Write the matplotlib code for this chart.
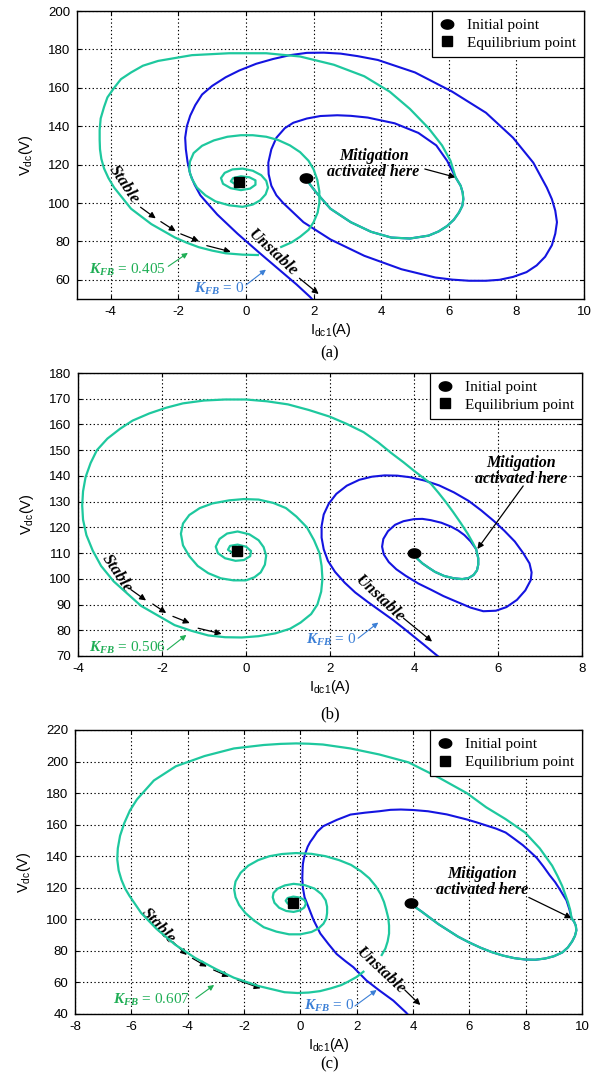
import numpy as np
import matplotlib
matplotlib.use('Agg')
import matplotlib.pyplot as plt
from matplotlib.lines import Line2D
from matplotlib.path import Path

plt.rcParams['font.family'] = ['Liberation Sans', 'DejaVu Sans']
plt.rcParams['axes.unicode_minus'] = False
plt.rcParams['mathtext.fontset'] = 'custom'
plt.rcParams['mathtext.rm'] = 'Liberation Sans'
plt.rcParams['mathtext.it'] = 'Liberation Sans:italic'
plt.rcParams['mathtext.bf'] = 'Liberation Serif:bold'
plt.rcParams['mathtext.bfit'] = 'Liberation Serif:italic:bold'

BLUE = '#1414e0'
TEAL = '#1ec89e'
GREEN_TXT = '#1fae55'
BLUE_TXT = '#3b7fd6'

# ---------------- panel (a): K_FB = 0.405 ----------------
a_init = (1.77, 113.0)
a_equil = (-0.2, 111.0)
a_shared_x = [1.77, 1.9, 2.1, 2.5, 3.1, 3.7, 4.3, 4.85, 5.4, 5.7, 5.95, 6.15, 6.3, 6.4, 6.43,
              6.41, 6.35, 6.2]
a_shared_y = [113.0, 109.5, 105.0, 97.0, 90.0, 85.0, 82.0, 81.5, 83.0, 85.2, 88.0, 91.3, 95.0,
              98.5, 102.0, 105.5, 109.0, 113.4]
a_blue_x = [6.2, 5.95, 5.63, 5.1, 4.4, 3.6, 3.1, 2.7, 2.2, 1.8, 1.4, 1.15, 0.9, 0.75, 0.66,
            0.67, 0.75, 0.9, 1.1, 1.7, 2.5, 3.5, 4.6, 5.6, 6.1, 6.6, 7.1, 7.5, 7.9, 8.3, 8.6,
            8.85, 9.05, 9.15, 9.2, 9.15, 9.05, 8.9, 8.5, 7.9, 7.1, 6.1, 5.0, 3.9, 3.3, 2.8,
            2.3, 1.8, 1.3, 0.8, 0.3, -0.2, -0.6, -1.0, -1.3, -1.5, -1.65, -1.75, -1.8, -1.78,
            -1.73, -1.65, -1.52, -1.35, -1.1, -0.85, -0.25, 0.4, 1.0, 1.5, 1.9, 2.0]
a_blue_y = [113.4, 122.0, 130.0, 136.5, 141.5, 144.5, 145.4, 145.7, 145.3, 144.0, 141.8, 139.0,
            134.0, 128.0, 121.0, 115.0, 109.0, 104.0, 100.0, 90.0, 81.0, 72.5, 65.5, 61.2,
            60.1, 59.5, 59.5, 60.0, 61.5, 64.0, 67.5, 72.0, 78.0, 84.0, 90.0, 96.0, 102.0,
            108.0, 121.0, 134.0, 147.0, 158.0, 168.0, 174.5, 176.5, 177.8, 178.3, 178.2,
            177.0, 175.0, 172.5, 169.0, 165.5, 161.0, 156.5, 151.0, 145.5, 140.0, 134.0,
            128.0, 121.5, 115.0, 109.5, 104.0, 99.0, 94.0, 84.0, 74.0, 65.0, 57.5, 51.0, 49.0]
a_teal_x = [6.2, 6.05, 5.8, 5.4, 4.85, 4.25, 3.5, 2.6, 1.6, 0.6, -0.5, -1.6, -2.6, -3.05, -3.4,
            -3.7, -3.9, -4.1, -4.2, -4.3, -4.33, -4.33, -4.32, -4.28, -4.2, -4.07, -3.9, -3.4,
            -2.8, -2.1, -1.75, -1.4, -1.0, -0.6, -0.1, 0.35, np.nan,
            1.04, 1.35, 1.6, 1.85, 2.0, 2.12, 2.17, 2.17, 2.11, 2.0, 1.85, 1.6, 1.3, 0.95,
            0.6, 0.2, -0.15, -0.55, -0.95, -1.3, -1.55, -1.66, -1.68, -1.6, -1.45, -1.2,
            -0.9, -0.5, -0.1, 0.2, 0.42, 0.58, 0.65, 0.6, 0.45, 0.2, -0.1, -0.4, -0.63,
            -0.74, -0.68, -0.45, -0.15, 0.12, 0.28, 0.28, 0.1, -0.15, -0.38, -0.45, -0.32,
            -0.15, -0.2]
a_teal_y = [113.4, 122.0, 130.0, 139.0, 149.0, 158.0, 166.0, 172.0, 176.3, 178.0, 178.0, 177.0,
            174.0, 171.5, 168.0, 164.5, 160.0, 155.0, 150.0, 144.0, 138.0, 133.0, 128.0, 123.0,
            118.0, 113.0, 108.0, 97.0, 89.0, 82.0, 79.3, 77.0, 75.2, 73.8, 73.1, 72.9, np.nan,
            77.1, 79.5, 82.4, 86.0, 90.0, 95.0, 100.0, 106.0, 112.0, 117.5, 122.0, 126.5,
            130.0, 132.8, 134.5, 135.3, 135.3, 134.5, 132.6, 129.8, 126.0, 121.5, 117.0,
            112.5, 108.0, 104.0, 100.8, 98.8, 98.0, 99.2, 101.4, 104.5, 108.0, 111.5, 114.5,
            116.8, 117.9, 117.5, 115.7, 113.0, 110.0, 107.7, 106.7, 107.5, 109.5, 111.8,
            113.4, 113.9, 113.0, 111.3, 109.8, 110.2, 111.0]

# ---------------- panel (b): K_FB = 0.506 ----------------
b_init = (4.0, 110.1)
b_equil = (-0.22, 110.8)
b_shared_x = [4.0, 4.08, 4.2, 4.35, 4.5, 4.72, 4.95, 5.15, 5.3, 5.42, 5.5, 5.53, 5.53, 5.5, 5.48]
b_shared_y = [110.1, 107.8, 106.0, 104.3, 102.7, 101.1, 100.2, 99.9, 100.3, 101.5, 103.3,
              105.5, 108.0, 110.0, 111.5]
b_blue_x = [5.48, 5.35, 5.2, 5.05, 4.88, 4.65, 4.4, 4.2, 4.0, 3.75, 3.55, 3.38, 3.27, 3.24,
            3.28, 3.4, 3.58, 3.8, 4.1, 4.4, 4.7, 5.0, 5.35, 5.65, 5.95, 6.2, 6.45, 6.65, 6.78,
            6.8, 6.75, 6.6, 6.4, 6.15, 5.9, 5.6, 5.3, 4.95, 4.6, 4.25, 3.9, 3.6, 3.3, 3.0,
            2.7, 2.4, 2.15, 1.97, 1.85, 1.8, 1.8, 1.85, 1.95, 2.12, 2.35, 2.6, 2.9, 3.2, 3.5,
            3.75, 4.0, 4.25, 4.45, 4.6]
b_blue_y = [111.5, 114.5, 117.0, 118.8, 120.3, 121.8, 122.8, 123.3, 123.2, 122.4, 121.0, 118.5,
            115.5, 112.5, 109.5, 106.5, 103.7, 101.2, 98.2, 95.8, 93.3, 91.2, 88.8, 87.4, 87.6,
            89.0, 91.8, 95.5, 99.5, 102.5, 106.0, 110.0, 114.5, 118.7, 122.5, 126.6, 130.3,
            133.6, 136.3, 138.2, 139.5, 140.1, 140.2, 139.7, 138.5, 136.2, 133.0, 129.2, 125.0,
            120.5, 116.0, 111.5, 107.0, 102.7, 98.5, 94.7, 91.0, 87.5, 84.0, 80.8, 77.5, 74.2,
            71.5, 69.5]
b_teal_x = [5.48, 5.4, 5.28, 5.1, 4.93, 4.75, 4.58, 4.4, 4.2, 4.0, 3.75, 3.45, 3.15, 2.8, 2.4,
            2.0, 1.5, 1.0, 0.5, 0.0, -0.5, -1.0, -1.5, -1.9, -2.3, -2.7, -3.0, -3.3, -3.55,
            -3.7, -3.82, -3.88, -3.9, -3.88, -3.8, -3.65, -3.45, -3.15, -2.5, -1.7, -1.3, -0.9,
            -0.5, -0.1, 0.3, 0.7, 1.05, 1.3, 1.55, 1.7, 1.79, 1.82, 1.8, 1.75, 1.62, 1.45, 1.2,
            0.95, 0.65, 0.3, -0.05, -0.4, -0.8, -1.1, -1.35, -1.5, -1.55, -1.5, -1.35, -1.15,
            -0.9, -0.6, -0.3, 0.0, 0.2, 0.35, 0.45, 0.48, 0.42, 0.3, 0.08, -0.2, -0.45, -0.63,
            -0.72, -0.67, -0.5, -0.25, -0.05, 0.1, 0.12, 0.0, -0.2, -0.38, -0.43, -0.33, -0.22]
b_teal_y = [111.5, 114.0, 117.5, 122.0, 126.0, 130.0, 133.5, 137.0, 139.5, 142.0, 145.3, 149.0,
            153.0, 157.0, 160.2, 163.0, 165.6, 167.8, 169.0, 169.7, 169.7, 169.3, 168.2, 166.5,
            164.3, 161.5, 158.3, 154.5, 150.0, 145.0, 139.5, 134.0, 128.5, 123.0, 117.0, 111.0,
            105.0, 99.0, 89.5, 82.0, 79.8, 78.0, 77.3, 77.2, 77.7, 78.8, 80.6, 83.0, 86.3, 90.0,
            95.0, 100.0, 105.0, 110.0, 115.0, 120.0, 124.2, 127.5, 129.5, 130.8, 131.0, 130.5,
            129.3, 127.5, 124.8, 121.5, 117.5, 113.0, 108.8, 105.0, 102.2, 100.2, 99.4, 99.4,
            100.6, 102.5, 105.5, 109.0, 112.3, 115.0, 117.3, 118.4, 117.6, 115.5, 112.5, 110.0,
            108.0, 107.0, 107.3, 108.8, 110.8, 112.5, 113.3, 112.8, 111.3, 110.2, 110.8]

# ---------------- panel (c): K_FB = 0.607 ----------------
c_init = (3.94, 110.5)
c_equil = (-0.26, 110.5)
c_shared_x = [3.94, 4.1, 4.3, 4.6, 4.9, 5.25, 5.6, 6.0, 6.4, 6.8, 7.2, 7.6, 8.0, 8.35, 8.7, 9.0,
              9.3, 9.5, 9.65, 9.75, 9.8, 9.78, 9.72, 9.63]
c_shared_y = [110.5, 107.5, 105.0, 101.0, 97.0, 93.0, 89.0, 85.3, 82.0, 79.2, 77.0, 75.4, 74.5,
              74.4, 75.2, 76.6, 79.0, 82.2, 86.0, 89.5, 93.0, 96.0, 98.5, 100.7]
c_blue_x = [9.63, 9.55, 9.45, 9.21, 9.05, 8.85, 8.63, 8.39, 8.15, 7.9, 7.6, 7.29, 6.95, 6.6,
            6.25, 5.91, 5.2, 4.53, 4.0, 3.57, 3.2, 2.8, 2.3, 1.78, 1.29, 0.81, 0.6, 0.47, 0.35,
            0.26, 0.17, 0.12, 0.09, 0.08, 0.07, 0.09, 0.15, 0.29, 0.47, 0.71, 1.0, 1.29, 1.6,
            1.88, 2.35, 2.8, 3.3, 3.75, 3.85]
c_blue_y = [100.7, 106.5, 112.0, 119.0, 123.5, 128.0, 133.5, 139.0, 143.0, 147.0, 151.0, 155.0,
            157.5, 159.5, 161.5, 163.3, 166.5, 168.5, 169.3, 169.6, 169.4, 168.5, 167.6, 166.4,
            163.0, 159.0, 155.5, 152.0, 149.0, 146.0, 141.5, 138.0, 135.0, 131.8, 126.0, 120.0,
            114.0, 107.7, 99.5, 91.0, 84.3, 78.0, 73.5, 69.7, 61.2, 55.0, 48.5, 41.0, 39.0]
c_teal_x = [9.63, 9.58, 9.5, 9.4, 9.3, 9.13, 8.94, 8.5, 7.98, 7.29, 6.6, 5.91, 4.9, 3.84, 2.8,
            1.78, 0.8, 0.3, -0.15, -0.7, -1.3, -2.36, -3.4, -4.42, -5.2, -5.8, -6.05, -6.25,
            -6.4, -6.48, -6.5, -6.45, -6.35, -6.22, -6.07, -5.65, -5.11, -4.45, -3.73, -3.0,
            -2.36, -1.5, -0.56, -0.1, 0.3, 0.7, 1.09, 1.45, 1.7, 2.0, 2.24, np.nan,
            2.89, 3.02, 3.1, 3.15, 3.15, 3.12, 3.05, 2.97, 2.85, 2.68, 2.45, 2.15, 1.8, 1.38,
            0.9, 0.4, -0.15, -0.65, -1.1, -1.5, -1.85, -2.12, -2.3, -2.35, -2.3, -2.17, -1.95,
            -1.65, -1.3, -0.85, -0.4, 0.0, 0.4, 0.65, 0.82, 0.92, 0.95, 0.95, 0.9, 0.75, 0.5,
            0.15, -0.24, -0.55, -0.8, -0.95, -0.98, -0.92, -0.75, -0.5, -0.24, -0.02, 0.14,
            0.2, 0.15, -0.02, -0.25, -0.45, -0.52, -0.45, -0.3, -0.22]
c_teal_y = [100.7, 106.0, 111.0, 116.0, 121.0, 127.5, 134.0, 145.0, 155.0, 163.5, 171.0, 180.0,
            190.0, 199.5, 204.5, 208.3, 210.8, 211.3, 211.5, 211.2, 210.5, 208.3, 203.5, 197.0,
            188.0, 176.0, 169.0, 161.0, 153.0, 145.0, 138.0, 131.0, 125.0, 119.5, 115.0, 104.0,
            94.0, 84.0, 75.5, 68.5, 63.0, 57.8, 53.8, 53.3, 53.6, 54.5, 56.3, 58.3, 60.5, 63.5,
            66.8, np.nan,
            77.4, 81.5, 86.0, 91.0, 96.0, 101.0, 106.0, 111.0, 116.0, 121.0, 126.0, 130.5,
            134.5, 137.5, 140.0, 141.5, 142.0, 141.4, 140.0, 137.5, 134.0, 129.5, 124.0, 119.0,
            114.0, 109.0, 104.0, 99.3, 95.0, 92.2, 90.5, 90.5, 92.0, 94.3, 97.2, 100.5, 104.0,
            108.0, 112.0, 116.0, 119.5, 121.7, 122.5, 121.5, 119.5, 116.8, 114.0, 110.5, 107.3,
            105.3, 104.7, 105.6, 107.5, 110.0, 112.2, 113.8, 114.4, 113.5, 111.8, 110.0, 109.4,
            110.3]

# axis settings per panel
a_xlim, a_ylim = (-5, 10), (50, 200)
b_xlim, b_ylim = (-4, 8), (70, 180)
c_xlim, c_ylim = (-8, 10), (40, 220)
a_xticks, a_yticks = np.arange(-4, 11, 2), np.arange(60, 201, 20)
b_xticks, b_yticks = np.arange(-4, 9, 2), np.arange(70, 181, 10)
c_xticks, c_yticks = np.arange(-8, 11, 2), np.arange(40, 221, 20)
captions = ['(a)', '(b)', '(c)']

# ellipse-shaped marker for the initial point
_t = np.linspace(0, 2 * np.pi, 60)
ELLIPSE = Path(np.column_stack([1.35 * np.cos(_t), np.sin(_t)]))

SERIF = 'Liberation Serif'
BI = dict(family=SERIF, weight='bold', style='italic', fontsize=11.5)
BI_L = dict(family=SERIF, weight='bold', style='italic', fontsize=12)

fig = plt.figure(figsize=(6.10, 10.74), dpi=100)
W, H = 610.0, 1074.0


def arrow(ax, tail, tip, color='k', lw=0.9, scale=9):
    ax.annotate('', xy=tip, xytext=tail,
                arrowprops=dict(arrowstyle='-|>', color=color, lw=lw,
                                mutation_scale=scale, shrinkA=0, shrinkB=0))


def add_axes(left, right, top, bottom):
    return fig.add_axes([left / W, 1 - bottom / H, (right - left) / W, (bottom - top) / H])


def base_axes(ax, xlim, ylim, xticks, yticks, caption, cap_y):
    ax.set_xlim(*xlim)
    ax.set_ylim(*ylim)
    ax.set_xticks(xticks)
    ax.set_yticks(yticks)
    ax.grid(True, color='k', linestyle=(0, (1.2, 2.2)), linewidth=0.8)
    ax.tick_params(direction='in', length=3, width=0.8, top=True, right=True,
                   labelsize=9.5, pad=5)
    for s in ax.spines.values():
        s.set_linewidth(1.0)
    ax.set_xlabel(r'I$_{\mathrm{dc1}}$(A)', fontsize=10.5, labelpad=2)
    ax.set_ylabel(r'V$_{\mathrm{dc}}$(V)', fontsize=10.5, labelpad=9)
    fig.text(330 / W, 1 - cap_y / H, caption, ha='center', va='center',
             family=SERIF, fontsize=12)


def curves(ax, init, equil, sx, sy, bx, by, tx, ty):
    ax.plot(sx + bx, sy + by, color=BLUE, lw=1.5, zorder=3, solid_joinstyle='round')
    ax.plot(sx + tx, sy + ty, color=TEAL, lw=1.6, zorder=4, solid_joinstyle='round')
    ax.plot(*init, marker=ELLIPSE, ms=9, color='k', zorder=6, ls='none')
    ax.plot(*equil, marker='s', ms=7.5, color='k', zorder=6, ls='none')
    handles = [Line2D([], [], ls='none', marker=ELLIPSE, ms=9, color='k'),
               Line2D([], [], ls='none', marker='s', ms=7.5, color='k')]
    leg = ax.legend(handles, ['Initial point', 'Equilibrium point'], loc='upper right',
                    borderaxespad=0, fancybox=False, framealpha=1, edgecolor='k',
                    prop=dict(family=SERIF, size=11), handlelength=1.0,
                    handletextpad=0.8, labelspacing=0.25, borderpad=0.5)
    leg.get_frame().set_linewidth(0.9)
    leg.set_zorder(10)


def gain_label(ax, xy, value, color):
    ax.text(xy[0], xy[1], r'$\mathbfit{K}_{\mathbfit{FB}}$ = ' + value, color=color,
            ha='center', va='center', family=SERIF, fontsize=11)


axA = add_axes(77, 584, 11, 299)
axB = add_axes(78, 582, 373, 656)
axC = add_axes(75, 582, 730, 1014)

# ---- (a)
base_axes(axA, a_xlim, a_ylim, a_xticks, a_yticks, captions[0], 353)
curves(axA, a_init, a_equil, a_shared_x, a_shared_y, a_blue_x, a_blue_y, a_teal_x, a_teal_y)
axA.text(-3.6, 109.5, 'Stable', rotation=-56, ha='center', va='center', **BI_L)
for tail, tip in [((-3.12, 97.8), (-2.67, 92.0)), ((-2.52, 90.3), (-2.08, 85.3)),
                  ((-1.93, 83.9), (-1.39, 80.1)), ((-1.16, 77.8), (-0.45, 74.6))]:
    arrow(axA, tail, tip)
axA.text(0.78, 74.0, 'Unstable', rotation=-43, ha='center', va='center', **BI_L)
arrow(axA, (1.58, 60.8), (2.15, 52.6))
gain_label(axA, (-3.5, 65.0), '0.405', GREEN_TXT)
arrow(axA, (-2.3, 67.0), (-1.72, 74.0), color=GREEN_TXT, lw=0.8, scale=8)
gain_label(axA, (-0.8, 55.5), '0', BLUE_TXT)
arrow(axA, (0.0, 57.3), (0.59, 65.3), color=BLUE_TXT, lw=0.8, scale=8)
axA.text(3.8, 124.6, 'Mitigation', ha='center', va='center', **BI)
axA.text(3.76, 116.0, 'activated here', ha='center', va='center', **BI)
arrow(axA, (5.29, 117.7), (6.2, 113.4))

# ---- (b)
base_axes(axB, b_xlim, b_ylim, b_xticks, b_yticks, captions[1], 714)
curves(axB, b_init, b_equil, b_shared_x, b_shared_y, b_blue_x, b_blue_y, b_teal_x, b_teal_y)
axB.text(-3.08, 102.0, 'Stable', rotation=-56, ha='center', va='center', **BI_L)
for tail, tip in [((-2.74, 95.8), (-2.38, 91.6)), ((-2.22, 90.2), (-1.9, 86.7)),
                  ((-1.74, 85.4), (-1.34, 82.8)), ((-1.14, 80.8), (-0.58, 78.6))]:
    arrow(axB, tail, tip)
axB.text(3.19, 92.0, 'Unstable', rotation=-43, ha='center', va='center', **BI_L)
arrow(axB, (3.75, 84.7), (4.43, 75.6))
gain_label(axB, (-2.82, 73.2), '0.506', GREEN_TXT)
arrow(axB, (-1.875, 72.4), (-1.42, 78.2), color=GREEN_TXT, lw=0.8, scale=8)
gain_label(axB, (2.04, 76.3), '0', BLUE_TXT)
arrow(axB, (2.67, 76.9), (3.15, 83.0), color=BLUE_TXT, lw=0.8, scale=8)
axB.text(6.55, 145.1, 'Mitigation', ha='center', va='center', **BI)
axB.text(6.55, 138.9, 'activated here', ha='center', va='center', **BI)
arrow(axB, (6.6, 136.1), (5.51, 111.6))

# ---- (c)
base_axes(axC, c_xlim, c_ylim, c_xticks, c_yticks, captions[2], 1064)
curves(axC, c_init, c_equil, c_shared_x, c_shared_y, c_blue_x, c_blue_y, c_teal_x, c_teal_y)
axC.text(-5.04, 95.8, 'Stable', rotation=-47, ha='center', va='center', **BI_L)
for tail, tip in [((-4.53, 85.8), (-4.03, 77.4)), ((-3.83, 75.3), (-3.32, 70.0)),
                  ((-3.08, 67.9), (-2.53, 63.7)), ((-2.24, 61.6), (-1.41, 56.3))]:
    arrow(axC, tail, tip)
axC.text(2.86, 67.4, 'Unstable', rotation=-43, ha='center', va='center', **BI_L)
arrow(axC, (3.71, 55.2), (4.26, 45.7))
gain_label(axC, (-5.3, 48.9), '0.607', GREEN_TXT)
arrow(axC, (-3.71, 50.0), (-3.06, 58.4), color=GREEN_TXT, lw=0.8, scale=8)
gain_label(axC, (1.03, 45.1), '0', BLUE_TXT)
arrow(axC, (1.94, 45.1), (2.71, 55.2), color=BLUE_TXT, lw=0.8, scale=8)
axC.text(6.46, 129.0, 'Mitigation', ha='center', va='center', **BI)
axC.text(6.46, 118.7, 'activated here', ha='center', va='center', **BI)
arrow(axC, (8.11, 113.9), (9.63, 100.7))

fig.savefig('out.png', dpi=100)
